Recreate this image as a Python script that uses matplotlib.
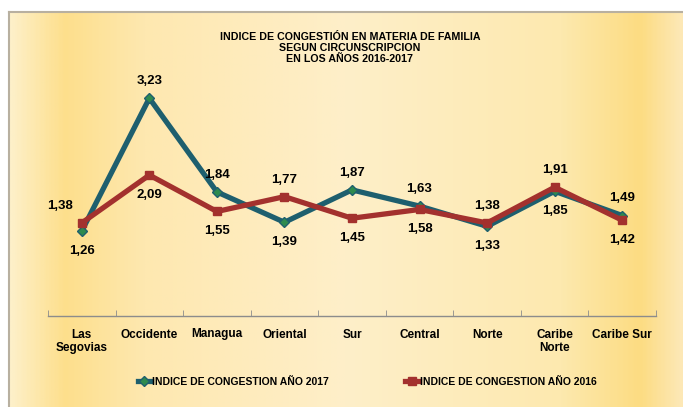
import matplotlib.pyplot as plt
import numpy as np
from matplotlib.colors import LinearSegmentedColormap

plt.rcParams['font.family'] = ['Liberation Sans', 'DejaVu Sans']

categorias = ["Las\nSegovias", "Occidente", "Managua", "Oriental", "Sur",
              "Central", "Norte", "Caribe\nNorte", "Caribe Sur"]
indice_2017 = [1.26, 3.23, 1.84, 1.39, 1.87, 1.63, 1.33, 1.85, 1.49]
indice_2016 = [1.38, 2.09, 1.55, 1.77, 1.45, 1.58, 1.38, 1.91, 1.42]
etiquetas_2017 = ["1,26", "3,23", "1,84", "1,39", "1,87", "1,63", "1,33", "1,85", "1,49"]
etiquetas_2016 = ["1,38", "2,09", "1,55", "1,77", "1,45", "1,58", "1,38", "1,91", "1,42"]

titulo = "INDICE DE CONGESTIÓN EN MATERIA DE FAMILIA\nSEGUN CIRCUNSCRIPCION\nEN LOS AÑOS 2016-2017"
serie_2017 = "INDICE DE CONGESTION AÑO 2017"
serie_2016 = "INDICE DE CONGESTION AÑO 2016"

teal = "#1E5F6E"
rojo = "#A3312E"

W, H = 683, 407
fig = plt.figure(figsize=(W/100, H/100), dpi=100)
fig.patch.set_facecolor("white")

# fondo con degradado amarillo
bg = fig.add_axes([9/W, 0, 1 - 9/W, 1 - 12/H])
cmap = LinearSegmentedColormap.from_list("fondo", [
    (0.0, "#FDF0C9"), (0.08, "#FDDF8C"), (0.2, "#FEE8B0"), (0.5, "#FEEFC9"),
    (0.82, "#FDE9AF"), (0.94, "#FCDC82"), (1.0, "#FDE8B6")])
xx = np.linspace(0, 1, 400)
grad = np.tile(xx, (50, 1))
bg.imshow(grad, aspect="auto", cmap=cmap, extent=[0, 1, 0, 1], interpolation="bilinear")
bg.set_xlim(0, 1)
bg.set_ylim(0, 1)
bg.set_xticks([])
bg.set_yticks([])
for s in ["top", "left"]:
    bg.spines[s].set_color("#B8B0A0")
    bg.spines[s].set_linewidth(1.5)
for s in ["right", "bottom"]:
    bg.spines[s].set_visible(False)

ax = fig.add_axes([48/W, 91/H, 608/W, 236/H])
ax.patch.set_alpha(0)
x = np.arange(len(categorias))

ax.plot(x, indice_2017, color=teal, lw=3.8, marker="D", ms=5,
        mfc="#2E8A4E", mec=teal, label=serie_2017, zorder=3)
ax.plot(x, indice_2016, color=rojo, lw=3.8, marker="s", ms=6,
        mfc=rojo, mec=rojo, label=serie_2016, zorder=4)

ax.set_xlim(-0.5, len(categorias) - 0.5)
ax.set_ylim(0, 3.5)
ax.set_yticks([])
for s in ["top", "right", "left"]:
    ax.spines[s].set_visible(False)
ax.spines["bottom"].set_color("#8C8C8C")
ax.spines["bottom"].set_linewidth(1)
ax.set_xticks(np.arange(len(categorias) + 1) - 0.5, minor=True)
ax.set_xticks(x)
ax.set_xticklabels(categorias, fontsize=8.5, fontweight="bold")
ax.tick_params(axis="x", which="major", length=0, pad=9)
ax.tick_params(axis="x", which="minor", length=4, color="#8C8C8C", direction="in")

# etiquetas de datos
for i in range(len(categorias)):
    a, b = indice_2017[i], indice_2016[i]
    if a >= b:
        alto, bajo = etiquetas_2017[i], etiquetas_2016[i]
    else:
        alto, bajo = etiquetas_2016[i], etiquetas_2017[i]
    dx_alto = -16 if i == 0 else 0
    ax.annotate(alto, (i, max(a, b)), xytext=(dx_alto, 8), textcoords="offset points",
                ha="center", va="bottom", fontsize=9.5, fontweight="bold")
    ax.annotate(bajo, (i, min(a, b)), xytext=(0, -10), textcoords="offset points",
                ha="center", va="top", fontsize=9.5, fontweight="bold")

fig.text(350/W, 1 - 48/H, titulo, ha="center", va="center", fontsize=7.7,
         fontweight="bold", linespacing=1.12)

leg = fig.legend(loc="center", bbox_to_anchor=(367/W, 1 - 382/H), ncol=2, frameon=False,
                 prop={"weight": "bold", "size": 7.5}, handlelength=1.3,
                 handletextpad=0.1, columnspacing=7.3)

fig.savefig("out.png", dpi=100)
